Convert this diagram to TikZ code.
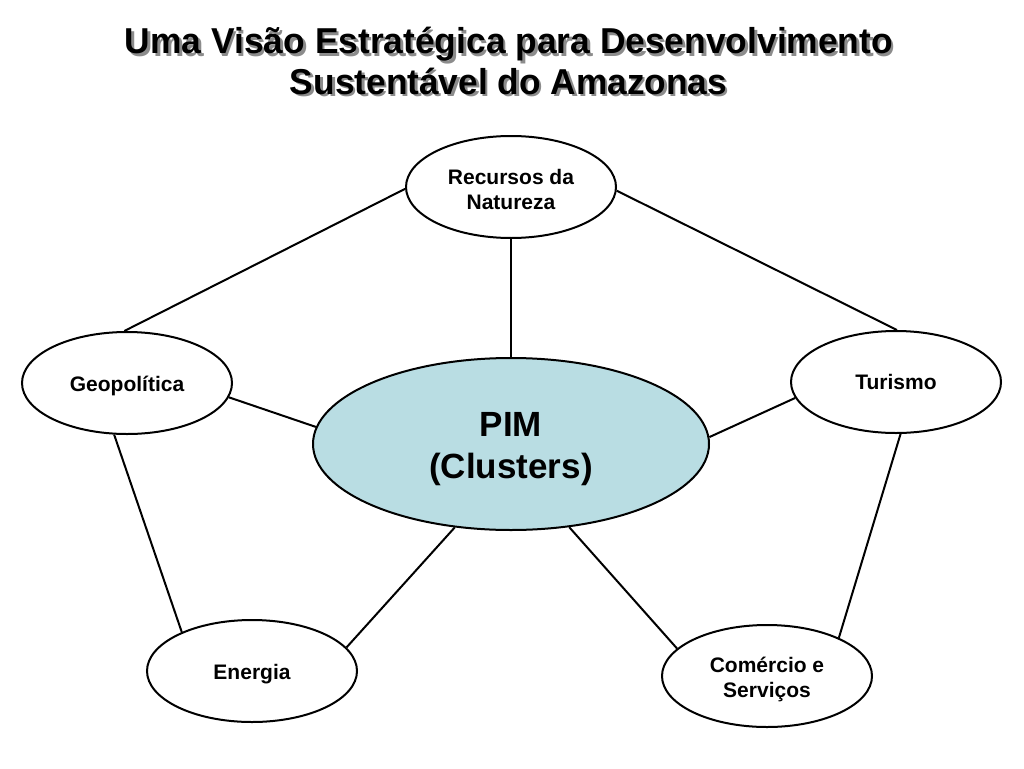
\documentclass[tikz,border=0pt]{standalone}
\usepackage{fontspec}
\setmainfont{Liberation Sans}
\usetikzlibrary{shapes.geometric}
\definecolor{pimfill}{RGB}{185,221,227}
\definecolor{shadowgray}{RGB}{140,140,140}
\tikzset{
  bubble/.style={ellipse, draw=black, line width=2pt, fill=white,
    minimum width=210pt, minimum height=102pt, inner sep=0pt},
  hub/.style={ellipse, draw=black, line width=2pt, fill=pimfill,
    minimum width=396pt, minimum height=172pt, inner sep=0pt},
  smalltext/.style={inner sep=0pt, align=center, font=\fontsize{21}{25}\selectfont\bfseries},
  bigtext/.style={inner sep=0pt, align=center, font=\fontsize{35}{42}\selectfont\bfseries},
  link/.style={line width=2pt, draw=black},
  titletext/.style={anchor=base, inner sep=0pt, font=\fontsize{36}{40}\selectfont\bfseries}
}
\begin{document}
\begin{tikzpicture}[x=1pt,y=-1pt]
\useasboundingbox (0,0) rectangle (1024,768);
% title with shadow
\node[titletext, text=shadowgray] (t1s) at (511.5,56.5) {\resizebox{768pt}{\height}{Uma Visão Estratégica para Desenvolvimento}};
\node[titletext, text=shadowgray] (t2s) at (511,96.5) {\resizebox{437pt}{\height}{Sustentável do Amazonas}};
\node[titletext] (t1) at (509,54) {\resizebox{768pt}{\height}{Uma Visão Estratégica para Desenvolvimento}};
\node[titletext] (t2) at (508.5,94) {\resizebox{437pt}{\height}{Sustentável do Amazonas}};
% nodes
\node[hub] (pim) at (511,444) {};
\node[bubble] (rec) at (511,187) {};
\node[bubble] (geo) at (127,383) {};
\node[bubble] (tur) at (896,382) {};
\node[bubble] (ene) at (252,671) {};
\node[bubble] (com) at (767,676) {};
% texts
\node[bigtext, yshift=-5pt] (pimt) at (pim.center) {PIM\\(Clusters)};
\node[smalltext, yshift=-2.5pt] (rect) at (rec.center) {Recursos da\\Natureza};
\node[smalltext, yshift=-3pt] (geot) at (geo.center) {Geopolítica};
\node[smalltext] (turt) at (tur.center) {Turismo};
\node[smalltext, yshift=-3pt] (enet) at (ene.center) {Energia};
\node[smalltext, yshift=-3pt] (comt) at (com.center) {Comércio e\\Serviços};
% links
\draw[link] (rec.181.6) -- (geo.93);
\draw[link] (rec.358.4) -- (tur.89);
\draw[link] (rec.270) -- (pim.90);
\draw[link] (geo.-8.8) -- (pim.175.9);
\draw[link] (tur.189.2) -- (pim.2.3);
\draw[link] (geo.256.5) -- (ene.151.2);
\draw[link] (tur.275.6) -- (com.28.8);
\draw[link] (pim.236.1) -- (ene.14.6);
\draw[link] (pim.305.3) -- (com.163.2);
\end{tikzpicture}
\end{document}
